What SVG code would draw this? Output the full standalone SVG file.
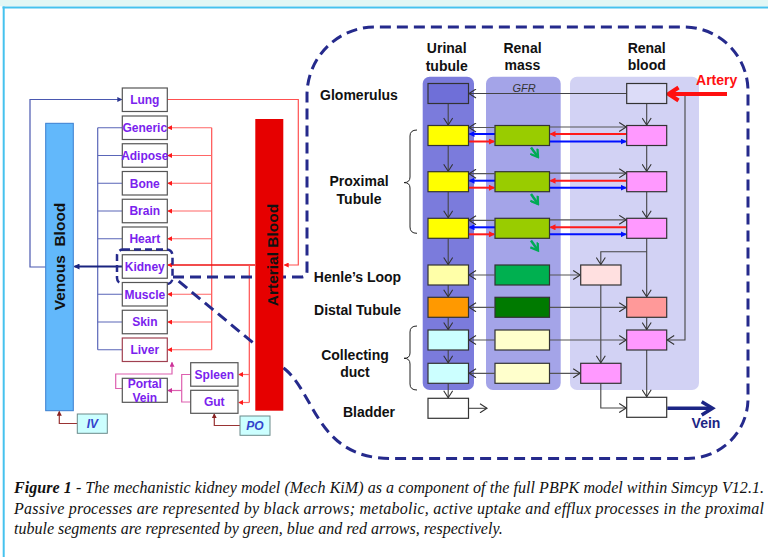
<svg xmlns="http://www.w3.org/2000/svg" width="768" height="557" viewBox="0 0 768 557">
<style>
.lb{font-family:"Liberation Sans",Arial,sans-serif;font-weight:bold;font-size:12px;fill:#7a22ee;text-anchor:middle}
.rl{font-family:"Liberation Sans",Arial,sans-serif;font-weight:bold;font-size:14px;fill:#111;text-anchor:middle}
.bar{font-family:"Liberation Sans",Arial,sans-serif;font-weight:bold;font-size:15.5px;fill:#111;text-anchor:middle;white-space:pre}
.io{font-family:"Liberation Sans",Arial,sans-serif;font-weight:bold;font-style:italic;font-size:12px;fill:#3344cc;text-anchor:middle}
.cap{font-family:"Liberation Serif","Times New Roman",serif;font-style:italic;font-size:16px;fill:#111}
.bx{fill:#fff;stroke:#555;stroke-width:1.2}
.kb{stroke:#333;stroke-width:1.2}
.g{fill:none;stroke:#555;stroke-width:1.2}
.gd{fill:none;stroke:#555;stroke-width:1.2;marker-start:url(#ch);marker-end:url(#ch)}
.ga{fill:none;stroke:#444;stroke-width:1.1;marker-end:url(#ch)}
.rd{fill:none;stroke:#ff1a1a;stroke-width:2;marker-end:url(#rh)}
.bu{fill:none;stroke:#0010ff;stroke-width:2;marker-end:url(#bh)}
.gr{fill:none;stroke:#00aa55;stroke-width:2.5;marker-end:url(#gh)}
.vn{fill:none;stroke:#5a66b8;stroke-width:1.2}
.ar{fill:none;stroke:#ff5050;stroke-width:1.2}
.arh{fill:none;stroke:#ff6666;stroke-width:1.2;marker-end:url(#ra)}
.pk{fill:none;stroke:#dd60b0;stroke-width:1.2}
.dr{fill:none;stroke:#993333;stroke-width:1.2;marker-end:url(#da)}
.dash{fill:none;stroke:#252a8c;stroke-width:3;stroke-dasharray:11 6}
</style>
<defs>
<marker id="ch" markerUnits="userSpaceOnUse" viewBox="0 0 10 10" refX="8" refY="5" markerWidth="10" markerHeight="10" orient="auto-start-reverse"><path d="M1,0.5 L8,5 L1,9.5" fill="none" stroke="#333" stroke-width="1.1"/></marker>
<marker id="rh" markerUnits="userSpaceOnUse" viewBox="0 0 6 6" refX="5" refY="3" markerWidth="6" markerHeight="6" orient="auto"><path d="M0,0 L6,3 L0,6 z" fill="#ff1a1a"/></marker>
<marker id="bh" markerUnits="userSpaceOnUse" viewBox="0 0 6 6" refX="5" refY="3" markerWidth="6" markerHeight="6" orient="auto"><path d="M0,0 L6,3 L0,6 z" fill="#0010ff"/></marker>
<marker id="gh" markerUnits="userSpaceOnUse" viewBox="0 0 10 10" refX="8" refY="5" markerWidth="10" markerHeight="10" orient="auto"><path d="M1,0.5 L8,5 L1,9.5" fill="none" stroke="#00aa55" stroke-width="2.3"/></marker>
<marker id="ra" markerUnits="userSpaceOnUse" viewBox="0 0 6 6" refX="5" refY="3" markerWidth="5" markerHeight="5" orient="auto"><path d="M0,0 L6,3 L0,6 z" fill="#ff1a1a"/></marker>
<marker id="pa" markerUnits="userSpaceOnUse" viewBox="0 0 6 6" refX="5" refY="3" markerWidth="5" markerHeight="5" orient="auto"><path d="M0,0 L6,3 L0,6 z" fill="#cc3399"/></marker>
<marker id="da" markerUnits="userSpaceOnUse" viewBox="0 0 6 6" refX="5" refY="3" markerWidth="5" markerHeight="5" orient="auto"><path d="M0,0 L6,3 L0,6 z" fill="#882222"/></marker>
<marker id="na" markerUnits="userSpaceOnUse" viewBox="0 0 6 6" refX="5" refY="3" markerWidth="6" markerHeight="6" orient="auto"><path d="M0,0 L6,3 L0,6 z" fill="#1a2480"/></marker>
<marker id="la" markerUnits="userSpaceOnUse" viewBox="0 0 6 6" refX="5" refY="3" markerWidth="5" markerHeight="5" orient="auto"><path d="M0,0 L6,3 L0,6 z" fill="#2a3590"/></marker>
</defs>

<!-- frame -->
<rect x="0" y="0" width="768" height="6.5" fill="#e2f7f5"/>
<rect x="0" y="6.5" width="768" height="550.5" fill="#fff"/>
<line x1="2.5" y1="7.5" x2="768" y2="7.5" stroke="#45c2ee" stroke-width="2"/>
<line x1="3.7" y1="6.5" x2="3.7" y2="557" stroke="#45c2ee" stroke-width="2"/>

<!-- kidney column backgrounds -->
<g id="columns">
<rect x="422.7" y="76.7" width="51.3" height="313.3" rx="7" fill="#7b7bdc"/>
<rect x="486" y="76.7" width="74.7" height="313.3" rx="7" fill="#a4a4e8"/>
<rect x="570" y="76.7" width="129" height="313.3" rx="7" fill="#d2d2f4"/>
</g>

<!-- connectors -->
<g id="connectors">
<path class="vn" d="M97.7,127.75 V349.75"/>
<path class="vn" d="M97.7,127.75 H122 M97.7,155.5 H122 M97.7,183.25 H122 M97.7,211 H122 M97.7,238.75 H122 M97.7,294.25 H122 M97.7,322 H122 M97.7,349.75 H122"/>
<path d="M122,266.5 H74.5" fill="none" stroke="#1a2480" stroke-width="2" marker-end="url(#na)"/>
<path d="M45.7,267 H30 V99.5 H121.5" fill="none" stroke="#4a58b0" stroke-width="1.2" marker-end="url(#la)"/>
<path class="ar" d="M211.7,127.75 V349.75"/>
<path d="M255,265 H168" fill="none" stroke="#ee1111" stroke-width="1.6" marker-end="url(#ra)"/>
<path class="arh" d="M211.7,127.75 H168"/>
<path class="arh" d="M211.7,155.5 H168"/>
<path class="arh" d="M211.7,183.25 H168"/>
<path class="arh" d="M211.7,211 H168"/>
<path class="arh" d="M211.7,238.75 H168"/>
<path class="arh" d="M211.7,294.25 H168"/>
<path class="arh" d="M211.7,322 H168"/>
<path class="arh" d="M211.7,349.75 H168"/>
<path class="ar" d="M249.3,265 V402.5"/>
<path class="arh" d="M249.3,374.5 H239"/>
<path class="arh" d="M249.3,402.5 H239"/>
<path d="M167,99.5 H298.3 V265 H284.5" fill="none" stroke="#ff5050" stroke-width="1.2" marker-end="url(#ra)"/>
<path class="pk" d="M190.7,374.5 H181.7 V402 H190.7"/>
<path d="M181.7,390.5 H168" fill="none" stroke="#dd60b0" stroke-width="1.2" marker-end="url(#pa)"/>
<path d="M122,388.5 H115.7 V374 H172 V362.5" fill="none" stroke="#dd60b0" stroke-width="1.2" marker-end="url(#pa)"/>
<path class="dr" d="M77.3,423.5 H59.3 V411.5"/>
<path class="dr" d="M240,425.5 H214.3 V414"/>

<path class="ga" d="M448.2,103.5 V125"/>
<path class="ga" d="M448.2,145.5 V171.2"/>
<path class="ga" d="M448.2,191.7 V217.8"/>
<path class="ga" d="M448.2,238.3 V264.5"/>
<path class="ga" d="M448.2,285 V296.8"/>
<path class="ga" d="M448.2,317.3 V329.5"/>
<path class="ga" d="M448.2,350 V362.8"/>
<path class="ga" d="M448.2,383.3 V397.8"/>
<path class="ga" d="M468.5,408.3 H487"/>
<path class="ga" d="M626.7,93.5 H469"/>
<path class="ga" d="M646.7,103.5 V125"/>
<path class="ga" d="M646.7,145.5 V171.2"/>
<path class="ga" d="M646.7,191.7 V217.8"/>
<path class="ga" d="M646.7,238.3 V296.8"/>
<path class="ga" d="M646.7,251.7 H600.8 V264.5"/>
<path class="ga" d="M600.8,285 V362.8"/>
<path class="ga" d="M646.7,317.3 V329.5"/>
<path class="ga" d="M646.7,350 V396.8"/>
<path class="ga" d="M600.8,383.3 V408 H626.2"/>
<path class="ga" d="M685,96 V340 H667.2"/>

<path class="gd" d="M469,127.5 H494.5 M550,127 H626.2"/>
<path class="bu" d="M495,134 H469.5"/>
<path class="rd" d="M468.5,141.5 H494"/>
<path class="rd" d="M626.7,134 H550.5"/>
<path class="bu" d="M549.5,141.5 H625.7"/>
<path class="gr" d="M531,147.5 L538,157"/>

<path class="gd" d="M469,173.7 H494.5 M550,173.2 H626.2"/>
<path class="bu" d="M495,180.7 H469.5"/>
<path class="rd" d="M468.5,187.7 H494"/>
<path class="rd" d="M626.7,180.7 H550.5"/>
<path class="bu" d="M549.5,187.7 H625.7"/>
<path class="gr" d="M531,194 L538,204"/>

<path class="gd" d="M469,220.3 H494.5 M550,219.8 H626.2"/>
<path class="bu" d="M495,227.3 H469.5"/>
<path class="rd" d="M468.5,234.3 H494"/>
<path class="rd" d="M626.7,227.3 H550.5"/>
<path class="bu" d="M549.5,234.3 H625.7"/>
<path class="gr" d="M531,240.5 L538,250.5"/>

<path class="gd" d="M469,275 H494.5 M550,275 H580.2"/>
<path class="gd" d="M469,307.3 H494.5 M550,307.3 H626.2"/>
<path class="gd" d="M469,340 H494.5 M550,340 H626.2"/>
<path class="gd" d="M469,373.3 H494.5 M550,373.3 H580.2"/>

<path d="M727,94 H669" fill="none" stroke="#ff1010" stroke-width="4"/>
<path d="M678.5,87.5 L668.5,94 L678.5,100.5" fill="none" stroke="#ff1010" stroke-width="4"/>
<path d="M667.3,408.3 H712" fill="none" stroke="#1c2585" stroke-width="3.5"/>
<path d="M701.7,401.7 L712.5,408.3 L701.7,415" fill="none" stroke="#1c2585" stroke-width="3.5"/>

<path d="M417,130 Q410,130 410,136 V177 Q410,182.6 404,182.6 Q410,182.6 410,188 V227 Q410,233.3 417,233.3" fill="none" stroke="#222" stroke-width="1"/>
<path d="M417,326 Q410,326 410,332 V353 Q410,358.3 404,358.3 Q410,358.3 410,364 V384 Q410,390 417,390" fill="none" stroke="#222" stroke-width="1"/>

<path class="dash" d="M173,277 H301 Q307,277 307,271 V95 A68,68 0 0 1 375,27 H684 A64,64 0 0 1 748,91 V398.5 A60,60 0 0 1 688,458.5 H390 C318,458 315,395 286,370 L176,279"/>
</g>

<g id="venous"><rect x="45.7" y="123.3" width="27.6" height="287.4" fill="#62b8fb" stroke="#3a7fd0" stroke-width="1"/><text class="bar" transform="translate(64.5,256.5) rotate(-90)">Venous  Blood</text></g>
<g id="arterial"><rect x="255.3" y="119" width="28" height="291.7" fill="#e60000"/><text class="bar" transform="translate(278.3,255) rotate(-90)">Arterial Blood</text></g>
<g id="lung"><rect class="bx" x="122.3" y="88" width="45" height="23.5"/><text class="lb" x="144.8" y="104">Lung</text></g>
<g id="generic"><rect class="bx" x="122.3" y="116" width="45" height="23.5"/><text class="lb" x="144.8" y="132">Generic</text></g>
<g id="adipose"><rect class="bx" x="122.3" y="143.75" width="45" height="23.5"/><text class="lb" x="144.8" y="159.8">Adipose</text></g>
<g id="bone"><rect class="bx" x="122.3" y="171.5" width="45" height="23.5"/><text class="lb" x="144.8" y="187.5">Bone</text></g>
<g id="brain"><rect class="bx" x="122.3" y="199.25" width="45" height="23.5"/><text class="lb" x="144.8" y="215.3">Brain</text></g>
<g id="heart"><rect class="bx" x="122.3" y="227" width="45" height="23.5"/><text class="lb" x="144.8" y="243">Heart</text></g>
<g id="kidney"><rect class="bx" x="122.3" y="254.75" width="45" height="23.5"/><text class="lb" x="144.8" y="270.8">Kidney</text><rect x="117" y="249.5" width="55.5" height="34.5" rx="6" fill="none" stroke="#252a8c" stroke-width="2.5" stroke-dasharray="7 4"/></g>
<g id="muscle"><rect class="bx" x="122.3" y="282.5" width="45" height="23.5"/><text class="lb" x="144.8" y="298.5">Muscle</text></g>
<g id="skin"><rect class="bx" x="122.3" y="310.25" width="45" height="23.5"/><text class="lb" x="144.8" y="326.3">Skin</text></g>
<g id="liver"><rect x="122.3" y="338" width="45" height="23.5" fill="#fff" stroke="#a04050" stroke-width="1.2"/><text class="lb" x="144.8" y="354">Liver</text></g>
<g id="portal"><rect class="bx" x="122.3" y="378.3" width="45" height="24"/><text class="lb" x="144.8" y="388">Portal</text><text class="lb" x="144.8" y="401.5">Vein</text></g>
<g id="spleen"><rect class="bx" x="190.7" y="362.7" width="47.3" height="23.5"/><text class="lb" x="214.3" y="378.7">Spleen</text></g>
<g id="gut"><rect class="bx" x="190.7" y="390.3" width="47.3" height="23"/><text class="lb" x="214.3" y="406.3">Gut</text></g>
<g id="iv"><rect x="77.3" y="414" width="30" height="19.3" fill="#ccffff" stroke="#6a8a8a" stroke-width="1"/><text class="io" x="92.3" y="428">IV</text></g>
<g id="po"><rect x="240" y="416" width="30" height="19.3" fill="#ccffff" stroke="#6a8a8a" stroke-width="1"/><text class="io" x="255" y="430.3">PO</text></g>

<g id="headers">
<text class="rl" x="446.7" y="53">Urinal</text><text class="rl" x="446.7" y="70.5">tubule</text>
<text class="rl" x="522.5" y="52.5">Renal</text><text class="rl" x="522.5" y="70">mass</text>
<text class="rl" x="646.7" y="52.5">Renal</text><text class="rl" x="646.7" y="70">blood</text>
</g>
<g id="rowlabels">
<text class="rl" x="359" y="100">Glomerulus</text>
<text class="rl" x="359" y="186">Proximal</text><text class="rl" x="359" y="203.5">Tubule</text>
<text class="rl" x="357.5" y="281.5">Henle’s Loop</text>
<text class="rl" x="357.5" y="314.5">Distal Tubule</text>
<text class="rl" x="355" y="359.5">Collecting</text><text class="rl" x="355" y="377">duct</text>
<text class="rl" x="369" y="416.5">Bladder</text>
<text x="524" y="91.5" font-family="Liberation Sans,Arial,sans-serif" font-style="italic" font-size="11" fill="#333" text-anchor="middle">GFR</text>
<text class="rl" x="716.7" y="85" style="fill:#ff1010">Artery</text>
<text class="rl" x="706" y="428" style="fill:#1c2585">Vein</text>
</g>

<g id="u-glom"><rect class="kb" x="428" y="83.5" width="40.5" height="20" fill="#6f6fd8"/></g>
<g id="u-pt1"><rect class="kb" x="428" y="125.5" width="40.5" height="20" fill="#ffff00"/></g>
<g id="u-pt2"><rect class="kb" x="428" y="171.7" width="40.5" height="20" fill="#ffff00"/></g>
<g id="u-pt3"><rect class="kb" x="428" y="218.3" width="40.5" height="20" fill="#ffff00"/></g>
<g id="u-henle"><rect class="kb" x="428" y="265" width="40.5" height="20" fill="#ffffa8"/></g>
<g id="u-distal"><rect class="kb" x="428" y="297.3" width="40.5" height="20" fill="#ff9900"/></g>
<g id="u-cd1"><rect class="kb" x="428" y="330" width="40.5" height="20" fill="#ccffff"/></g>
<g id="u-cd2"><rect class="kb" x="428" y="363.3" width="40.5" height="20" fill="#ccffff"/></g>
<g id="u-bladder"><rect class="kb" x="428" y="398.3" width="40.5" height="20" fill="#fff"/></g>
<g id="m-pt1"><rect class="kb" x="495" y="125.5" width="54.5" height="20" fill="#99cc00"/></g>
<g id="m-pt2"><rect class="kb" x="495" y="171.7" width="54.5" height="20" fill="#99cc00"/></g>
<g id="m-pt3"><rect class="kb" x="495" y="218.3" width="54.5" height="20" fill="#99cc00"/></g>
<g id="m-henle"><rect class="kb" x="495" y="265" width="54.5" height="20" fill="#00b050"/></g>
<g id="m-distal"><rect class="kb" x="495" y="297.3" width="54.5" height="20" fill="#007a00"/></g>
<g id="m-cd1"><rect class="kb" x="495" y="330" width="54.5" height="20" fill="#ffffcc"/></g>
<g id="m-cd2"><rect class="kb" x="495" y="363.3" width="54.5" height="20" fill="#ffffcc"/></g>
<g id="b-top"><rect class="kb" x="626.7" y="83.5" width="40" height="20" fill="#dcdcf8"/></g>
<g id="b-pt1"><rect class="kb" x="626.7" y="125.5" width="40" height="20" fill="#ff99ff"/></g>
<g id="b-pt2"><rect class="kb" x="626.7" y="171.7" width="40" height="20" fill="#ff99ff"/></g>
<g id="b-pt3"><rect class="kb" x="626.7" y="218.3" width="40" height="20" fill="#ff99ff"/></g>
<g id="b-henle"><rect class="kb" x="580.7" y="265" width="40.3" height="20" fill="#ffe0e0"/></g>
<g id="b-distal"><rect class="kb" x="626.7" y="297.3" width="40" height="20" fill="#ff9999"/></g>
<g id="b-cd1"><rect class="kb" x="626.7" y="330" width="40" height="20" fill="#ff99ff"/></g>
<g id="b-cd2"><rect class="kb" x="580.7" y="363.3" width="40.3" height="20" fill="#ff99ff"/></g>
<g id="b-vein"><rect class="kb" x="626.7" y="397.3" width="40" height="20" fill="#fff"/></g>

<g id="caption">
<text class="cap" x="14" y="492.7" textLength="750" lengthAdjust="spacing"><tspan font-weight="bold">Figure 1</tspan> - The mechanistic kidney model (Mech KiM) as a component of the full PBPK model within Simcyp V12.1.</text>
<text class="cap" x="14" y="513.5" textLength="750" lengthAdjust="spacing">Passive processes are represented by black arrows; metabolic, active uptake and efflux processes in the proximal</text>
<text class="cap" x="14" y="534">tubule segments are represented by green, blue and red arrows, respectively.</text>
</g>
</svg>
